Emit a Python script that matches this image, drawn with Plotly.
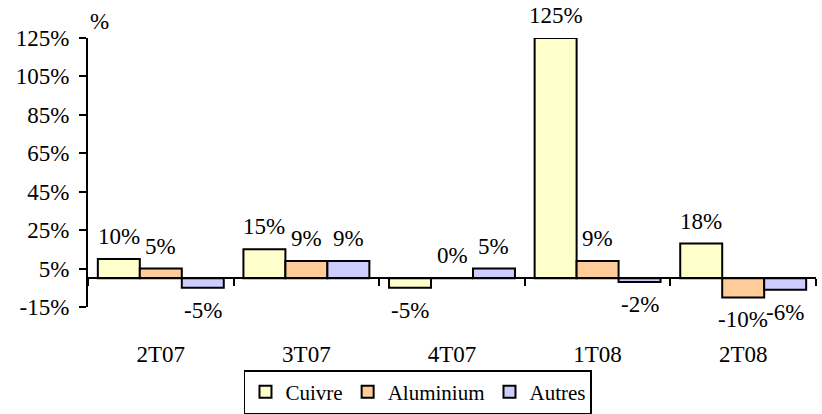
import plotly.graph_objects as go

# Quarterly change by metal
quarters = ["2T07", "3T07", "4T07", "1T08", "2T08"]
cuivre = [10, 15, -5, 125, 18]
aluminium = [5, 9, 0, 9, -10]
autres = [-5, 9, 5, -2, -6]

series_names = ["Cuivre", "Aluminium", "Autres"]
series_values = [cuivre, aluminium, autres]
series_colors = ["#FFFFCC", "#FFCC99", "#CCCCFF"]

y_ticks = [-15, 5, 25, 45, 65, 85, 105, 125]
y_tick_text = [f"{t}%" for t in y_ticks]
y_min, y_max = -15, 125

FONT = "Liberation Serif"
FS = 23
BARGAP = 0.135
TXT = dict(family=FONT, size=FS, color="black")

fig = go.Figure()
for name, vals, col in zip(series_names, series_values, series_colors):
    fig.add_trace(go.Bar(
        name=name, x=quarters, y=vals, xaxis="x", yaxis="y",
        marker=dict(color=col, line=dict(color="black", width=2)),
    ))

# Value labels above (positive) or below (negative) each bar
n = len(series_names)
bw = (1 - BARGAP) / n
annotations = []
for j, vals in enumerate(series_values):
    off = (j - (n - 1) / 2) * bw
    for i, v in enumerate(vals):
        pos = v >= 0
        annotations.append(dict(
            x=i + off, y=v, xref="x", yref="y", text=f"{v}%",
            showarrow=False, yanchor="bottom" if pos else "top",
            yshift=8 if pos else -8, font=TXT,
        ))

annotations.append(dict(
    x=0.016, y=1.0, xref="paper", yref="paper", text="%",
    showarrow=False, xanchor="center", yanchor="bottom", yshift=2, font=TXT,
))

# Fraction of the plot height where the value axis crosses zero
zero_pos = (0 - y_min) / (y_max - y_min)

fig.update_layout(
    width=822, height=414,
    margin=dict(l=88, r=6, t=38, b=107, autoexpand=False),
    paper_bgcolor="white", plot_bgcolor="white",
    barmode="group", bargap=BARGAP, bargroupgap=0,
    xaxis=dict(
        type="category", showline=False, ticks="", showgrid=False,
        zeroline=False, tickfont=TXT, ticklabelstandoff=31,
        automargin=False,
    ),
    xaxis2=dict(
        type="category", overlaying="x", anchor="free", position=zero_pos,
        matches="x", showline=True, linecolor="black", linewidth=2,
        ticks="outside", ticklen=7, tickwidth=2, tickcolor="black",
        tickson="boundaries", showticklabels=False, showgrid=False,
        zeroline=False, automargin=False,
    ),
    yaxis=dict(
        range=[y_min, y_max], tickmode="array", tickvals=y_ticks,
        ticktext=y_tick_text,
        showline=True, linecolor="black", linewidth=2,
        ticks="outside", ticklen=7, tickwidth=2, tickcolor="black",
        showgrid=False, zeroline=False, tickfont=TXT, ticklabelstandoff=5,
        automargin=False,
    ),
    legend=dict(
        orientation="h", xref="container", yref="container",
        x=0.5085, y=0.0, xanchor="center", yanchor="bottom",
        bordercolor="black", borderwidth=1.5, bgcolor="white",
        font=dict(family=FONT, size=21, color="black"), itemwidth=30,
        traceorder="normal",
    ),
    showlegend=True,
    annotations=annotations,
)

# Transparent bars on the secondary category axis so that axis is drawn
fig.add_trace(go.Bar(x=quarters, y=[0] * len(quarters), xaxis="x2", yaxis="y",
                     showlegend=False, hoverinfo="skip",
                     marker=dict(color="rgba(0,0,0,0)")))

fig.write_html("out.html")
